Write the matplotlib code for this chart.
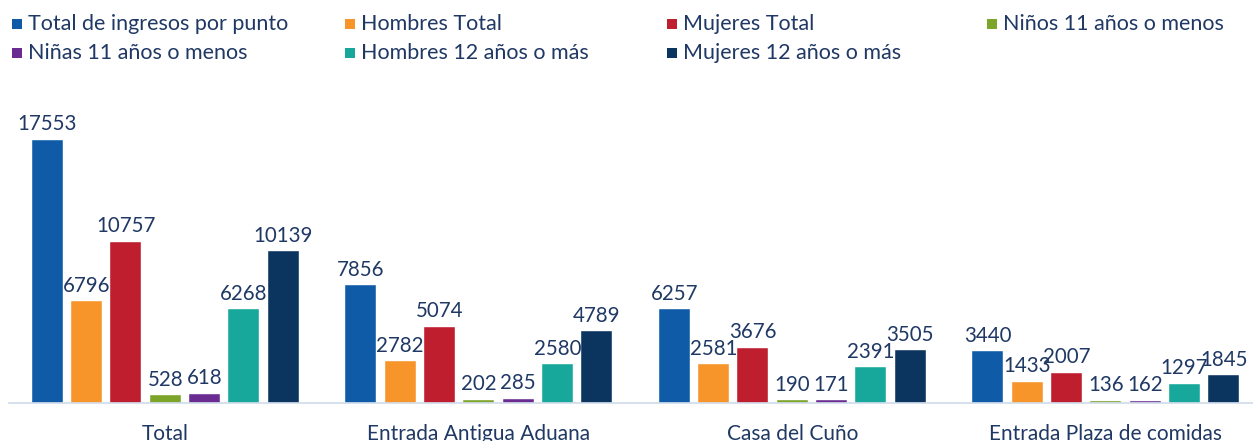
import matplotlib.pyplot as plt
import matplotlib.patches as mpatches
import numpy as np

plt.rcParams["font.family"] = ["Lato", "DejaVu Sans"]

# Données
categorias = ["Total", "Entrada Antigua Aduana", "Casa del Cuño", "Entrada Plaza de comidas"]
series = [
    "Total de ingresos por punto",
    "Hombres Total",
    "Mujeres Total",
    "Niños 11 años o menos",
    "Niñas 11 años o menos",
    "Hombres 12 años o más",
    "Mujeres 12 años o más",
]
total_ingresos = [17553, 7856, 6257, 3440]
hombres_total = [6796, 2782, 2581, 1433]
mujeres_total = [10757, 5074, 3676, 2007]
ninos_11 = [528, 202, 190, 136]
ninas_11 = [618, 285, 171, 162]
hombres_12 = [6268, 2580, 2391, 1297]
mujeres_12 = [10139, 4789, 3505, 1845]

valores = [total_ingresos, hombres_total, mujeres_total, ninos_11, ninas_11, hombres_12, mujeres_12]
colores = ["#0F5BA7", "#F7952A", "#BE1E2D", "#7BA428", "#6A2C91", "#17A89B", "#0B355F"]
TEXTO = "#1F3864"

W, H = 1253, 441
fig = plt.figure(figsize=(W / 100, H / 100), dpi=100)
fig.patch.set_facecolor("white")

# zone du graphique en pixels
x0, x1 = 8.5, 1262.5
y_base, y_top = 403, 100
ax = fig.add_axes([x0 / W, (H - y_base) / H, (x1 - x0) / W, (y_base - y_top) / H])
ymax = 17553 * (y_base - y_top) / (y_base - 140)
ax.set_ylim(0, ymax)
ax.set_xlim(-0.5, len(categorias) - 0.5)

x = np.arange(len(categorias))
pas = 0.1255
largeur = 0.099
for i, (vals, col) in enumerate(zip(valores, colores)):
    pos = x + (i - 3) * pas
    ax.bar(pos, vals, width=largeur, color=col, edgecolor="white", linewidth=0.3, zorder=2)
    for p, v in zip(pos, vals):
        ax.annotate(str(v), (p, v), xytext=(0, 4), textcoords="offset points",
                    ha="center", va="bottom", fontsize=14.8, color=TEXTO)

for s in ["top", "right", "left"]:
    ax.spines[s].set_visible(False)
ax.spines["bottom"].set_color("#D0DCEB")
ax.spines["bottom"].set_linewidth(1.2)
ax.set_yticks([])
ax.set_xticks(x)
ax.set_xticklabels(categorias, fontsize=15, color=TEXTO)
ax.tick_params(axis="x", length=0, pad=15)

# Légende manuelle (4 colonnes, remplissage par ligne)
col_x = [12, 345, 667, 987]
row_y = [24, 53]
for i, (nom, col) in enumerate(zip(series, colores)):
    cx = col_x[i % 4]
    cy = row_y[i // 4]
    fig.patches.append(mpatches.Rectangle(((cx) / W, (H - cy - 5) / H), 10 / W, 10 / H,
                                          transform=fig.transFigure, facecolor=col,
                                          edgecolor="none"))
    fig.text((cx + 16) / W, (H - cy) / H, nom, fontsize=15.5, color=TEXTO,
             ha="left", va="center")

fig.savefig("out.png", dpi=100)
